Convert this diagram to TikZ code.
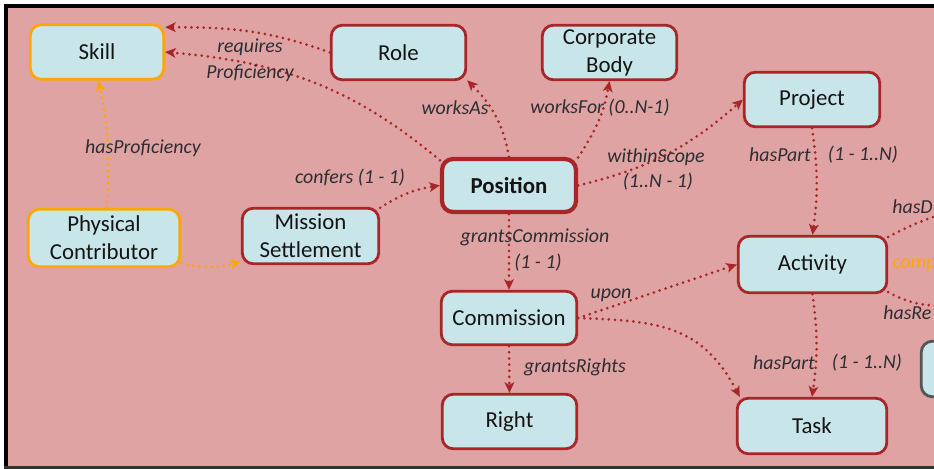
\documentclass[tikz,border=0pt]{standalone}
\usepackage{fontspec}
\setmainfont{Carlito}
\usetikzlibrary{arrows.meta}

\definecolor{canvas}{RGB}{223,163,163}
\definecolor{boxfill}{RGB}{200,229,233}
\definecolor{relred}{RGB}{168,38,40}
\definecolor{amber}{RGB}{252,167,8}
\definecolor{labelgrey}{RGB}{45,45,50}
\definecolor{edgegrey}{RGB}{85,85,85}

\tikzset{
  concept/.style={draw=relred, line width=1.6pt, fill=boxfill, rounded corners=0.22cm,
    font=\fontsize{13}{16}\selectfont, text=black!92, align=center, inner sep=0pt,
    minimum width=2.69cm, minimum height=1.09cm},
  agent/.style={concept, draw=amber},
  focus/.style={concept, line width=2.4pt, font=\fontsize{13}{16}\selectfont\bfseries},
  link/.style={draw=relred, line width=1.7pt, line cap=round, dash pattern=on 0pt off 3.5pt,
    -{Stealth[length=6pt,width=5.5pt,inset=1.5pt]}},
  agentlink/.style={link, draw=amber},
  rel/.style={font=\fontsize{11.3}{14.7}\selectfont\itshape, text=labelgrey, inner sep=0pt, align=center},
}

\begin{document}
\begin{tikzpicture}[x=0.02cm, y=-0.02cm]
  \useasboundingbox (0,0) rectangle (934,469);
  \clip (0,0) rectangle (934,469);

  % canvas and frame
  \fill[white] (0,0) rectangle (934,469);
  \fill[canvas] (6,6) rectangle (934,467);
  \fill[black] (4,4.5) rectangle (934,8);
  \fill[black] (4,4.5) rectangle (7.5,469);
  \fill[black!80] (4,466.5) rectangle (934,469);

  % concepts
  \node[agent, minimum width=2.67cm] (skill) at (97,52) {Skill};
  \node[concept] (role) at (398.5,52.5) {Role};
  \node[concept] (corp) at (609.5,52.5) {Corporate\\Body};
  \node[concept, minimum width=2.71cm] (project) at (812,99.5) {Project};
  \node[focus, minimum width=2.68cm, minimum height=1.06cm] (position) at (509,185.5) {Position};
  \node[agent, minimum width=3.03cm, minimum height=1.15cm] (pc) at (104,238) {Physical\\Contributor};
  \node[concept, minimum width=2.73cm, minimum height=1.11cm] (ms) at (310.5,236) {Mission\\Settlement};
  \node[concept, minimum width=2.97cm, minimum height=1.13cm] (activity) at (812.5,264.5) {Activity};
  \node[concept, minimum width=2.71cm, minimum height=1.07cm] (commission) at (509,318) {Commission};
  \node[concept] (right) at (509.5,421.5) {Right};
  \node[concept, minimum width=2.99cm, minimum height=1.11cm] (task) at (812,426) {Task};
  \node[concept, draw=edgegrey, minimum height=1.11cm] (outer) at (988.5,369) {};

  % relations
  \draw[link] (role.west) to[out=160,in=0] (skill.20);
  \draw[link] (position.160) to[out=140,in=-5] (skill.east);
  \draw[link] (position.north) to[out=100,in=-45] (role.-22);
  \draw[link] (position.22) to[out=57,in=-100] (corp.south);
  \draw[link] (position.east) to[bend right=14] (project.west);
  \draw[link] (ms.22) to[bend left=12] (position.west);
  \draw[agentlink] (pc.-18) to[bend right=15] (ms.200);
  \draw[agentlink] (pc.85) to[bend right=8] (skill.-87);
  \draw[link] (position.south) -- (commission.north);
  \draw[link] (commission.east) -- (activity.west);
  \draw[link] (commission.east) to[out=-2,in=118,looseness=1.15] (task.158);
  \draw[link] (commission.south) -- (right.north);
  \draw[link] (project.south) to[bend left=8] (activity.north);
  \draw[link] (activity.south) to[bend left=8] (task.north);

  \coordinate (offD) at (1000,205);
  \coordinate (offRe) at (1000,306);
  \draw[link] (activity.20) to[out=28,in=185] (offD);
  \draw[link] (activity.-20) to[out=-30,in=175] (offRe);

  % relation labels
  \node[rel] at (250,60) {requires\\Proficiency};
  \node[rel] at (455,108) {worksAs};
  \node[rel] at (600,108) {worksFor (0..N-1)};
  \node[rel] at (656,157) {withinScope};
  \node[rel] at (658,182) {(1..N - 1)};
  \node[rel] at (350,178) {confers (1 - 1)};
  \node[rel] at (143,148) {hasProficiency};
  \node[rel] at (535,237) {grantsCommission};
  \node[rel] at (538,263) {(1 - 1)};
  \node[rel] at (611,295) {upon};
  \node[rel] at (575,367) {grantsRights};
  \node[rel] at (780,155) {hasPart};
  \node[rel] at (863,155) {(1 - 1..N)};
  \node[rel] at (784,363) {hasPart};
  \node[rel] at (867,363) {(1 - 1..N)};
  \node[rel, anchor=west] at (892,207) {hasD};
  \node[rel, anchor=west, text=amber] at (892,265) {comp};
  \node[rel, anchor=west] at (883,313) {hasRe};
\end{tikzpicture}
\end{document}
